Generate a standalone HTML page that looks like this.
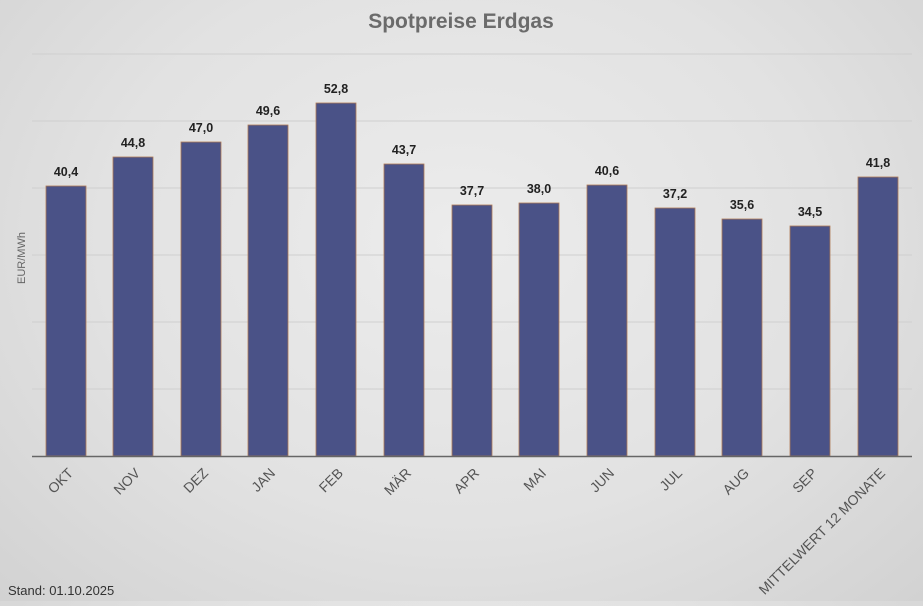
<!DOCTYPE html>
<html><head><meta charset="utf-8"><style>
html,body{margin:0;padding:0}
body{width:923px;height:601px;overflow:hidden;background:radial-gradient(ellipse at 50% 40%,#ececec 0%,#e2e2e2 55%,#d2d2d2 100%);font-family:"Liberation Sans",sans-serif}
</style></head><body>
<svg width="923" height="601" xmlns="http://www.w3.org/2000/svg" font-family="Liberation Sans, sans-serif">
<text x="461" y="28" text-anchor="middle" font-size="21" font-weight="bold" fill="#6b6b6b">Spotpreise Erdgas</text>
<g stroke="#cfcfcf" stroke-width="1">
<line x1="32" x2="912" y1="54" y2="54"/><line x1="32" x2="912" y1="121" y2="121"/>
<line x1="32" x2="912" y1="188" y2="188"/><line x1="32" x2="912" y1="255" y2="255"/>
<line x1="32" x2="912" y1="322" y2="322"/><line x1="32" x2="912" y1="389" y2="389"/>
</g>
<text transform="translate(25,258) rotate(-90)" text-anchor="middle" font-size="11" fill="#666">EUR/MWh</text>
<g fill="#4a5287" stroke="#b07a55" stroke-width="0.8">
<rect x="46" y="186" width="40" height="270"/>
<rect x="113" y="157" width="40" height="299"/>
<rect x="181" y="142" width="40" height="314"/>
<rect x="248" y="125" width="40" height="331"/>
<rect x="316" y="103" width="40" height="353"/>
<rect x="384" y="164" width="40" height="292"/>
<rect x="452" y="205" width="40" height="251"/>
<rect x="519" y="203" width="40" height="253"/>
<rect x="587" y="185" width="40" height="271"/>
<rect x="655" y="208" width="40" height="248"/>
<rect x="722" y="219" width="40" height="237"/>
<rect x="790" y="226" width="40" height="230"/>
<rect x="858" y="177" width="40" height="279"/>
</g>
<line x1="32" x2="912" y1="456.5" y2="456.5" stroke="#666" stroke-width="1.5"/>
<g font-size="12.5" font-weight="bold" fill="#222" text-anchor="middle">
<text x="66" y="176">40,4</text><text x="133" y="147">44,8</text><text x="201" y="132">47,0</text>
<text x="268" y="115">49,6</text><text x="336" y="93">52,8</text><text x="404" y="154">43,7</text>
<text x="472" y="195">37,7</text><text x="539" y="193">38,0</text><text x="607" y="175">40,6</text>
<text x="675" y="198">37,2</text><text x="742" y="209">35,6</text><text x="810" y="216">34,5</text>
<text x="878" y="167">41,8</text>
</g>
<g font-size="14" fill="#555" text-anchor="end">
<text transform="translate(74,474) rotate(-45)">OKT</text>
<text transform="translate(141,474) rotate(-45)">NOV</text>
<text transform="translate(209,474) rotate(-45)">DEZ</text>
<text transform="translate(276,474) rotate(-45)">JAN</text>
<text transform="translate(344,474) rotate(-45)">FEB</text>
<text transform="translate(412,474) rotate(-45)">MÄR</text>
<text transform="translate(480,474) rotate(-45)">APR</text>
<text transform="translate(547,474) rotate(-45)">MAI</text>
<text transform="translate(615,474) rotate(-45)">JUN</text>
<text transform="translate(683,474) rotate(-45)">JUL</text>
<text transform="translate(750,474) rotate(-45)">AUG</text>
<text transform="translate(818,474) rotate(-45)">SEP</text>
<text transform="translate(886,474) rotate(-45)">MITTELWERT 12 MONATE</text>
</g>
<text x="8" y="595" font-size="13" fill="#333">Stand: 01.10.2025</text>
</svg>
</body></html>
